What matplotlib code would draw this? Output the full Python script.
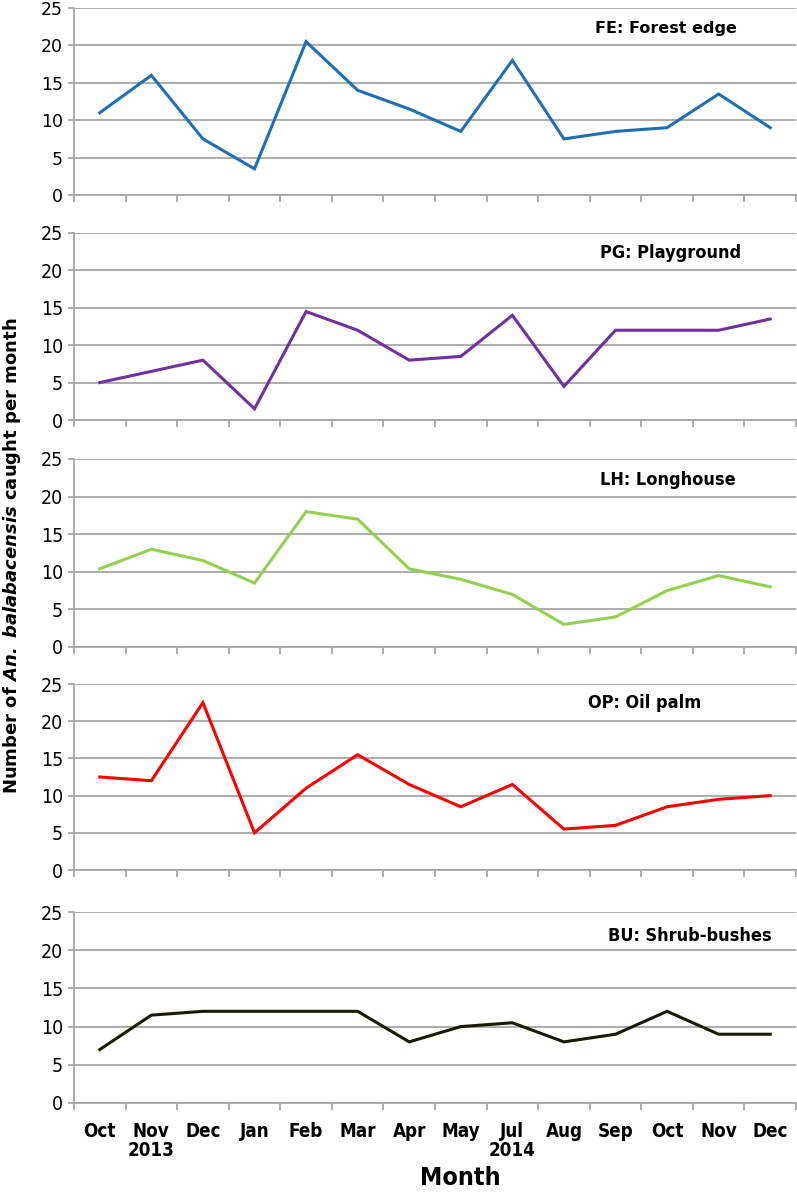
import numpy as np
import matplotlib
matplotlib.use("Agg")
import matplotlib.pyplot as plt
import matplotlib.transforms as mtransforms

months = ["Oct", "Nov", "Dec", "Jan", "Feb", "Mar", "Apr",
          "May", "Jul", "Aug", "Sep", "Oct", "Nov", "Dec"]

fe = [11, 16, 7.5, 3.5, 20.5, 14, 11.5, 8.5, 18, 7.5, 8.5, 9, 13.5, 9]
pg = [5, 6.5, 8, 1.5, 14.5, 12, 8, 8.5, 14, 4.5, 12, 12, 12, 13.5]
lh = [10.4, 13, 11.5, 8.5, 18, 17, 10.4, 9, 7, 3, 4, 7.5, 9.5, 8]
op = [12.5, 12, 22.5, 5, 11, 15.5, 11.5, 8.5, 11.5, 5.5, 6, 8.5, 9.5, 10]
bu = [7, 11.5, 12, 12, 12, 12, 8, 10, 10.5, 8, 9, 12, 9, 9]

series = [fe, pg, lh, op, bu]
titles = ["FE: Forest edge", "PG: Playground", "LH: Longhouse",
          "OP: Oil palm", "BU: Shrub-bushes"]
colors = ["#1f6fb4", "#7030a0", "#92d050", "#ff0000", "#1a1a00"]

plt.rcParams["mathtext.fontset"] = "custom"
plt.rcParams["mathtext.bfit"] = "DejaVu Sans:bold:italic"

# condensed look for most texts
nar = dict(family="DejaVu Sans", stretch="condensed")

W, H = 797, 1192
fig = plt.figure(figsize=(W / 100, H / 100), dpi=100)

# pixel boxes (top, bottom) for each panel
boxes = [(8, 195), (233, 420), (459, 647), (684, 870), (912, 1103)]
label_x = [595, 600, 600, 588, 608]
label_y = [28, 253, 480, 703, 936]
left, right = 74, 796

x = np.arange(len(months))
grid_c = "#a6a6a6"

axes = []
for i, (top, bot) in enumerate(boxes):
    ax = fig.add_axes([left / W, 1 - bot / H, (right - left) / W, (bot - top) / H])
    ax.plot(x, series[i], color=colors[i], lw=2.2, solid_joinstyle="miter")
    ax.set_xlim(-0.5, len(months) - 0.5)
    ax.set_ylim(0, 25)
    ax.set_yticks([0, 5, 10, 15, 20, 25])
    ax.grid(axis="y", color=grid_c, lw=1.3)
    ax.set_axisbelow(True)
    for s in ["top", "right"]:
        ax.spines[s].set_visible(False)
    for s in ["left", "bottom"]:
        ax.spines[s].set_color(grid_c)
        ax.spines[s].set_linewidth(1.3)
    ax.set_xticks(np.arange(-0.5, len(months)), minor=True)
    ax.set_xticks(x)
    ax.tick_params(axis="x", which="minor", length=5, color=grid_c, width=1.3)
    ax.tick_params(axis="x", which="major", length=0)
    ax.tick_params(axis="y", length=4, color=grid_c, width=1.3, pad=4)
    if i == 0:
        for t in ax.get_yticklabels():
            t.set_fontsize(12.5)
            t.set_family("DejaVu Sans")
    else:
        for t in ax.get_yticklabels():
            t.set_fontsize(14)
            t.set_family("DejaVu Sans")
            t.set_stretch("condensed")
    if i < 4:
        ax.set_xticklabels([])
    else:
        ax.set_xticklabels(months, fontsize=13.5, fontweight="bold", **nar)
        ax.tick_params(axis="x", which="major", pad=14)
    if i == 0:
        fig.text(label_x[i] / W, 1 - label_y[i] / H, titles[i], ha="left",
                 va="center", fontsize=11.5, fontweight="bold",
                 family="DejaVu Sans")
    else:
        fig.text(label_x[i] / W, 1 - label_y[i] / H, titles[i], ha="left",
                 va="center", fontsize=13, fontweight="bold", **nar)
    axes.append(ax)

# years under the month labels
ax = axes[-1]
tr = mtransforms.blended_transform_factory(ax.transData, fig.transFigure)
ax.text(1, 1 - 1151 / H, "2013", transform=tr, ha="center", va="center",
        fontsize=13.5, fontweight="bold", **nar)
ax.text(8, 1 - 1151 / H, "2014", transform=tr, ha="center", va="center",
        fontsize=13.5, fontweight="bold", **nar)
fig.text(460 / W, 1 - 1178 / H, "Month", ha="center", va="center",
         fontsize=18, fontweight="bold", **nar)

fig.text(12 / W, 1 - 556 / H,
         r"Number of $\mathbfit{An.\ balabacensis}$ caught per month",
         rotation=90, ha="center", va="center", fontsize=13,
         fontweight="bold", family="DejaVu Sans")

fig.savefig("out.png", dpi=100)
